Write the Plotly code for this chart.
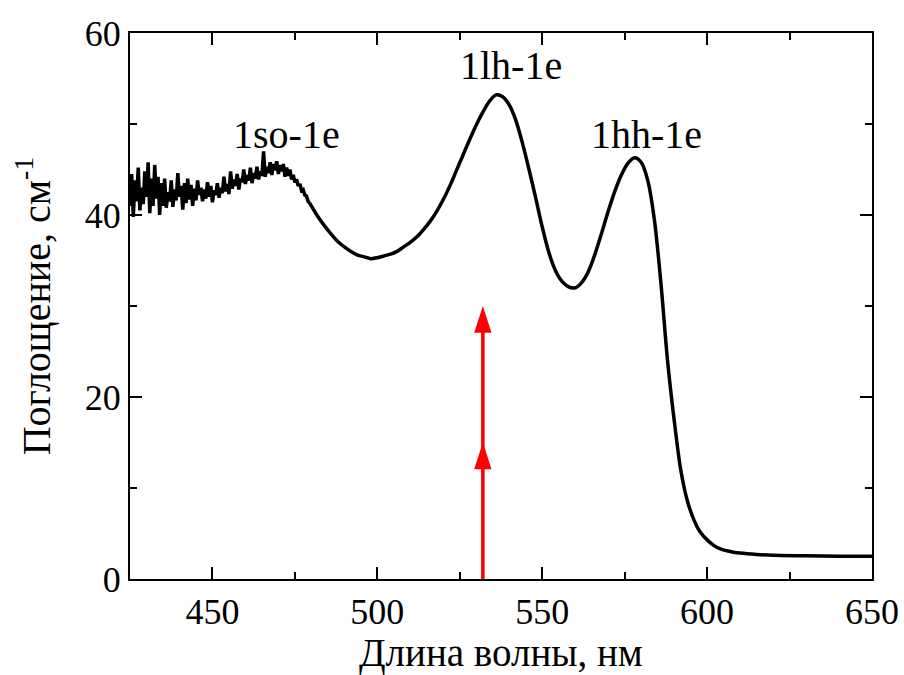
import plotly.graph_objects as go

# Absorption spectrum: noisy short-wavelength part sampled every 0.5 nm
noisy_nm = [425.0 + 0.5 * i for i in range(110)]
noisy_abs = [
    41.0, 44.5, 39.8, 43.8, 41.5, 45.2, 40.5, 43.0, 41.2, 44.8,
    42.0, 45.8, 40.2, 44.0, 41.0, 45.5, 41.8, 44.2, 40.0, 43.5,
    41.0, 44.0, 40.8, 42.5, 41.5, 43.8, 40.9, 42.8, 41.6, 44.6,
    42.0, 43.2, 40.6, 43.5, 41.3, 44.0, 41.7, 43.3, 41.0, 42.9,
    41.6, 43.8, 42.2, 43.0, 41.5, 42.8, 41.8, 43.6, 42.0, 43.2,
    41.4, 42.7, 42.2, 43.5, 41.9, 43.0, 42.4, 44.2, 42.6, 43.4,
    42.3, 44.8, 42.9, 43.9, 43.2, 44.5, 42.8, 44.0, 43.6, 45.0,
    43.4, 44.4, 43.8, 45.2, 43.5, 44.6, 44.0, 45.3, 43.9, 44.8,
    44.3, 47.0, 44.2, 45.3, 44.6, 45.8, 44.4, 45.6, 44.9, 45.9,
    44.5, 45.5, 44.8, 45.6, 44.2, 45.2, 44.3, 45.0, 43.9, 44.4,
    43.6, 43.9, 43.2, 43.4, 42.7, 42.8, 42.2, 42.1, 41.5, 41.3,
]

# Smooth part of the spectrum
smooth_nm = [
    479.5, 482, 484, 486, 488, 490, 492, 494, 496, 498,
    500, 502, 504, 506, 508, 510, 512, 514, 516, 518,
    520, 522, 524, 526, 528, 530, 532, 534, 536, 538,
    540, 542, 544, 546, 548, 550, 552, 554, 556, 558,
    560, 562, 564, 566, 568, 570, 572, 574, 576, 578,
    580, 582, 584, 586, 588, 590, 592, 594, 596, 598,
    600, 602, 604, 606, 608, 610, 615, 620, 630, 640, 650,
]
smooth_abs = [
    41.3, 39.8, 38.8, 37.9, 37.1, 36.5, 36.0, 35.6, 35.4, 35.2,
    35.3, 35.5, 35.7, 36.0, 36.5, 37.0, 37.6, 38.4, 39.3, 40.4,
    41.7, 43.2, 44.9, 46.6, 48.3, 49.9, 51.3, 52.5, 53.2, 53.0,
    52.1, 50.4, 47.9, 45.0, 41.9, 38.7, 35.9, 33.9, 32.7, 32.1,
    32.0, 32.6, 33.8, 35.7, 38.0, 40.4, 42.6, 44.4, 45.7, 46.3,
    45.8, 43.8, 39.5, 32.5, 24.0, 17.5, 12.0, 8.6, 6.5, 5.1,
    4.3, 3.7, 3.3, 3.1, 2.95, 2.85, 2.7, 2.6, 2.55, 2.5, 2.5,
]

# Transition labels
peak_labels = ["1so-1e", "1lh-1e", "1hh-1e"]
label_nm = [472.6, 540.5, 581.5]
label_abs = [48.9, 56.4, 48.9]

# Excitation wavelength and arrow levels
laser_nm = 532
arrow_levels = [15, 30]

FONT = "Liberation Serif"
RED = "#ff0000"

fig = go.Figure()

fig.add_trace(go.Scatter(
    x=noisy_nm, y=noisy_abs, mode="lines",
    line=dict(color="black", width=3.5),
    showlegend=False, hoverinfo="skip",
))
fig.add_trace(go.Scatter(
    x=smooth_nm, y=smooth_abs, mode="lines",
    line=dict(color="black", width=3.5, shape="spline", smoothing=0.8),
    showlegend=False, hoverinfo="skip",
))

# Red excitation arrow with two heads
fig.add_trace(go.Scatter(
    x=[laser_nm, laser_nm], y=[0, arrow_levels[-1] - 1.5], mode="lines",
    line=dict(color=RED, width=3.5),
    showlegend=False, hoverinfo="skip",
))
fig.add_trace(go.Scatter(
    x=[laser_nm] * len(arrow_levels), y=arrow_levels, mode="markers",
    marker=dict(symbol="arrow", size=28, color=RED, angle=0,
                line=dict(width=0)),
    showlegend=False, hoverinfo="skip",
))

for txt, xv, yv in zip(peak_labels, label_nm, label_abs):
    fig.add_annotation(x=xv, y=yv, text=txt, showarrow=False,
                       font=dict(family=FONT, size=40, color="black"))

# X axis title placed just under the tick labels
fig.add_annotation(x=0.5, y=0, xref="paper", yref="paper",
                   xanchor="center", yanchor="top", yshift=-50,
                   text="Длина волны, нм", showarrow=False,
                   font=dict(family=FONT, size=39, color="black"))

axis_common = dict(
    showline=True, linecolor="black", linewidth=2, mirror="ticks",
    ticks="inside", ticklen=12, tickwidth=2, tickcolor="black",
    showgrid=False, zeroline=False, automargin=False,
    tickfont=dict(family=FONT, size=36, color="black"),
)

fig.update_xaxes(
    range=[425, 650], tick0=450, dtick=50,
    minor=dict(ticks="inside", ticklen=7, tickwidth=2, tickcolor="black",
               dtick=25, tick0=425, showgrid=False),
    **axis_common,
)
fig.update_yaxes(
    range=[0, 60], tick0=0, dtick=20,
    minor=dict(ticks="inside", ticklen=7, tickwidth=2, tickcolor="black",
               dtick=10, showgrid=False),
    title=dict(text="Поглощение, см<sup>-1</sup>",
               font=dict(family=FONT, size=40, color="black"), standoff=22),
    **axis_common,
)

fig.update_layout(
    width=904, height=675,
    margin=dict(l=130, r=32, t=33, b=96),
    plot_bgcolor="white", paper_bgcolor="white",
)

fig.write_html("out.html")
